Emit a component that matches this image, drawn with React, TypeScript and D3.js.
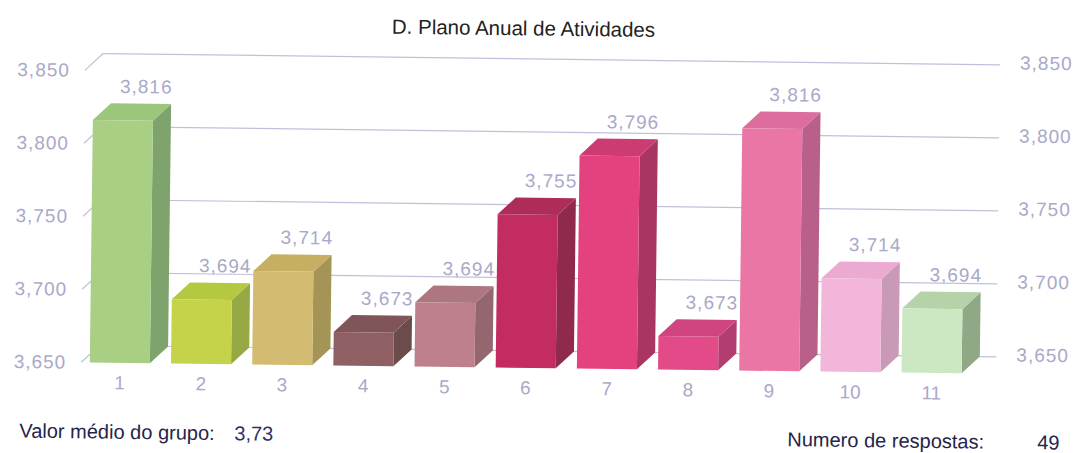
import React from "react";
import * as d3 from "d3";

const categories = ["1", "2", "3", "4", "5", "6", "7", "8", "9", "10", "11"];
const values = [3.816, 3.694, 3.714, 3.673, 3.694, 3.755, 3.796, 3.673, 3.816, 3.714, 3.694];
const yTicks = [3.65, 3.7, 3.75, 3.8, 3.85];
const frontColors = ["#a9cf85", "#c5d34a", "#d3bc72", "#8f5f63", "#bd808c", "#c32c63", "#e3427e", "#e24a88", "#ea76a5", "#f2b6db", "#cbe8c2"];
const sideColors = ["#7fa36c", "#97a945", "#a49556", "#6c4b4b", "#946670", "#8f2a4c", "#a93562", "#b23e70", "#b9608a", "#c99ab6", "#90a886"];
const topColors = ["#9cc67a", "#b5c940", "#c6ae62", "#80555a", "#ad7680", "#ad2c5a", "#cc3c72", "#d04580", "#dc6d9c", "#eaaad2", "#b6d2a8"];
const title = "D. Plano Anual de Atividades";
const meanLabel = "Valor médio do grupo:";
const meanValue = "3,73";
const countLabel = "Numero de respostas:";
const countValue = "49";

const W = 1073;
const H = 453;
const DX = 18;
const DY = -17;

const locale = d3.formatLocale({ decimal: ",", thousands: ".", grouping: [3], currency: ["", ""] });
const fmt = locale.format(".3f");

export default function App() {
  const x = d3.scaleBand<string>().domain(categories).range([81, 974]).paddingInner(0.26).paddingOuter(0.13);
  const y = d3.scaleLinear().domain([3.65, 3.85]).range([368, 76]);
  const bw = x.bandwidth();
  const base = y(3.65);
  const axisFont = "'Liberation Sans', Arial, sans-serif";
  const lab = "#a9a9c9";
  const grid = "#c0c0dc";

  return (
    <svg width={W} height={H} style={{ position: "absolute", left: 0, top: 0, background: "#fff" }}>
      <g transform="rotate(0.72, 536, 226)" fontFamily={axisFont}>
        <text x={521} y={28} textAnchor="middle" dominantBaseline="central" fontSize={20.5} fill="#222">
          {title}
        </text>
        {/* value labels */}
        {values.map((v, i) => (
          <text key={"v" + i} x={(x(categories[i]) as number) + bw / 2 + 23} y={y(v) - 34}
            textAnchor="middle" dominantBaseline="central" fontSize={19} letterSpacing={1} fill={lab}>
            {fmt(v)}
          </text>
        ))}
        {/* gridlines */}
        {yTicks.map((t) => (
          <g key={"g" + t}>
            <line x1={83} y1={y(t)} x2={83 + DX} y2={y(t) + DY} stroke={grid} strokeWidth={1.2} />
            <line x1={83 + DX} y1={y(t) + DY} x2={998} y2={y(t) + DY} stroke={grid} strokeWidth={1.2} />
            <text x={68} y={y(t)} textAnchor="end" dominantBaseline="central" fontSize={19} letterSpacing={1} fill={lab}>
              {fmt(t)}
            </text>
            <text x={1018} y={y(t) + DY - 2} textAnchor="start" dominantBaseline="central" fontSize={19} letterSpacing={1} fill={lab}>
              {fmt(t)}
            </text>
          </g>
        ))}
        {/* bars */}
        {values.map((v, i) => {
          const x0 = x(categories[i]) as number;
          const yt = y(v);
          const side = [[x0 + bw, yt], [x0 + bw + DX, yt + DY], [x0 + bw + DX, base + DY], [x0 + bw, base]];
          const top = [[x0, yt], [x0 + DX, yt + DY], [x0 + bw + DX, yt + DY], [x0 + bw, yt]];
          return (
            <g key={"b" + i}>
              <polygon points={side.map((p) => p.join(",")).join(" ")} fill={sideColors[i]} />
              <polygon points={top.map((p) => p.join(",")).join(" ")} fill={topColors[i]} />
              <rect x={x0} y={yt} width={bw} height={base - yt} fill={frontColors[i]} />
            </g>
          );
        })}
        {/* category labels */}
        {categories.map((c) => (
          <text key={"c" + c} x={(x(c) as number) + bw / 2} y={base + 20} textAnchor="middle"
            dominantBaseline="central" fontSize={19} fill={lab}>
            {c}
          </text>
        ))}
        {/* footer */}
        <text x={22} y={437} dominantBaseline="central" fontSize={20} fill="#25254a">{meanLabel}</text>
        <text x={237} y={437} dominantBaseline="central" fontSize={20} fill="#2a2f6a">{meanValue}</text>
        <text x={790} y={436} dominantBaseline="central" fontSize={20} fill="#25254a">{countLabel}</text>
        <text x={1040} y={436} dominantBaseline="central" fontSize={20} fill="#25254a">{countValue}</text>
      </g>
    </svg>
  );
}
